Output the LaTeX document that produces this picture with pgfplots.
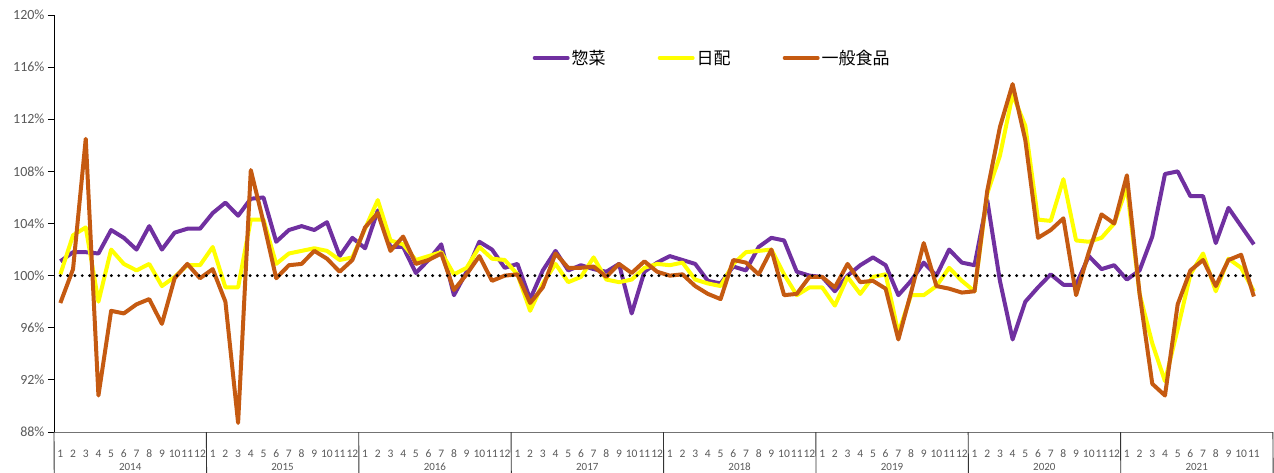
\documentclass[border=0pt]{standalone}
\usepackage{pgfplots}
\usepackage{pgfplotstable}
\usepackage{fontspec}
\pgfplotsset{compat=1.18}
\setmainfont{Carlito}
\newfontfamily\cjk{Noto Sans CJK JP}

\definecolor{sozai}{HTML}{7030A0}
\definecolor{nichi}{HTML}{FFFF00}
\definecolor{ippan}{HTML}{C55A11}
\definecolor{tickgray}{HTML}{595959}

% month index (0 = 2014/1), 惣菜, 日配, 一般食品
\pgfplotstableread{
i   s      n      g
0   101.1  100.1  97.9
1   101.8  103.1  100.5
2   101.8  103.7  110.5
3   101.7  98.0   90.8
4   103.5  102.0  97.3
5   102.9  100.9  97.1
6   102.0  100.4  97.8
7   103.8  100.9  98.2
8   102.0  99.2   96.3
9   103.3  99.9   99.8
10  103.6  100.8  100.9
11  103.6  100.8  99.8
12  104.8  102.2  100.5
13  105.6  99.1   98.0
14  104.6  99.1   88.7
15  105.9  104.3  108.1
16  106.0  104.3  104.1
17  102.6  100.9  99.8
18  103.5  101.7  100.8
19  103.8  101.9  100.9
20  103.5  102.1  101.9
21  104.1  101.9  101.3
22  101.5  101.2  100.3
23  102.9  101.4  101.2
24  102.1  103.6  103.7
25  105.0  105.8  104.8
26  102.2  102.7  101.9
27  102.2  102.4  103.0
28  100.2  101.2  100.9
29  101.2  101.5  101.2
30  102.4  101.8  101.7
31  98.5   100.1  98.9
32  100.3  100.6  100.1
33  102.6  102.2  101.5
34  102.0  101.3  99.6
35  100.6  101.2  100.0
36  100.9  100.1  100.1
37  98.2   97.3   97.9
38  100.4  99.4   99.1
39  101.9  100.9  101.7
40  100.4  99.5   100.6
41  100.8  99.9   100.6
42  100.5  101.4  100.7
43  100.3  99.7   99.9
44  100.9  99.5   100.9
45  97.1   99.7   100.2
46  100.3  100.6  101.1
47  101.0  100.9  100.3
48  101.5  100.8  100.0
49  101.2  101.0  100.1
50  100.9  99.7   99.2
51  99.6   99.4   98.6
52  99.4   99.2   98.2
53  100.7  100.9  101.2
54  100.4  101.8  101.0
55  102.2  101.9  100.1
56  102.9  102.0  102.0
57  102.7  100.1  98.5
58  100.3  98.5   98.6
59  100.0  99.1   99.9
60  99.9   99.1   99.9
61  98.8   97.7   99.1
62  100.0  99.9   100.9
63  100.8  98.6   99.5
64  101.4  99.9   99.6
65  100.8  100.1  99.0
66  98.5   95.6   95.1
67  99.6   98.5   98.7
68  101.0  98.5   102.5
69  100.0  99.2   99.2
70  102.0  100.6  99.0
71  101.0  99.6   98.7
72  100.8  98.8   98.8
73  105.8  106.3  106.5
74  99.6   109.2  111.4
75  95.1   113.9  114.7
76  98.0   111.5  110.4
77  99.1   104.3  102.9
78  100.1  104.2  103.5
79  99.3   107.4  104.4
80  99.3   102.7  98.5
81  101.5  102.6  101.8
82  100.5  102.9  104.7
83  100.8  104.0  104.0
84  99.7   106.8  107.7
85  100.4  98.6   98.6
86  103.0  94.8   91.7
87  107.8  91.9   90.8
88  108.0  95.9   97.8
89  106.1  100.1  100.4
90  106.1  101.7  101.2
91  102.5  98.8   99.2
92  105.2  101.3  101.2
93  103.8  100.6  101.6
94  102.4  98.8   98.4
}\datatable

\begin{document}
\begin{tikzpicture}
\useasboundingbox (0,0) rectangle (1274pt,472pt);
\begin{axis}[
    at={(54pt,40pt)}, anchor=south west,
    width=1219pt, height=417pt, scale only axis,
    xmin=-0.5, xmax=95.5, ymin=88, ymax=120,
    axis x line*=bottom, axis y line*=left,
    x axis line style={-, black!55, line width=0.9pt},
    y axis line style={-, black, line width=0.9pt},
    clip=false,
    ytick={88,92,...,120},
    yticklabel={\pgfmathprintnumber{\tick}\%},
    /pgf/number format/assume math mode=true,
    yticklabel style={font=\fontsize{14}{14}\selectfont, text=tickgray},
    tick align=outside,
    major tick length=6pt,
    ytick style={black, line width=0.8pt},
    xtick={0,...,94},
    xtick style={draw=none},
    xticklabels={1,2,3,4,5,6,7,8,9,10,11,12,1,2,3,4,5,6,7,8,9,10,11,12,
      1,2,3,4,5,6,7,8,9,10,11,12,1,2,3,4,5,6,7,8,9,10,11,12,
      1,2,3,4,5,6,7,8,9,10,11,12,1,2,3,4,5,6,7,8,9,10,11,12,
      1,2,3,4,5,6,7,8,9,10,11,12,1,2,3,4,5,6,7,8,9,10,11},
    xticklabel style={font=\fontsize{11.5}{11.5}\selectfont, text=tickgray,
      anchor=base, yshift=-19pt, inner xsep=0pt},
    legend columns=3,
    legend style={draw=none, fill=none, at={(0.54,0.897)}, anchor=center,
      font=\cjk\fontsize{17}{17}\selectfont,
      nodes={inner xsep=2pt},
      /tikz/every even column/.append style={column sep=50pt}},
    legend image code/.code={\draw[#1, line cap=round] (0pt,0pt) -- (33pt,0pt);},
  ]
  \addplot[sozai, line width=4pt, line join=round] table[x=i, y=s] {\datatable};
  \addlegendentry{惣菜}
  \addplot[nichi, line width=4pt, line join=round] table[x=i, y=n] {\datatable};
  \addlegendentry{日配}
  \addplot[ippan, line width=4pt, line join=round] table[x=i, y=g] {\datatable};
  \addlegendentry{一般食品}
  \addplot[forget plot, black, line width=3.2pt, line cap=round,
    dash pattern=on 0pt off 7.3pt] coordinates {(0,100) (94,100)};

  \pgfplotsinvokeforeach{-0.5,11.5,23.5,35.5,47.5,59.5,71.5,83.5,95.5}{
    \draw[black!80, line width=0.9pt] (axis cs:#1,88) -- ++(0,-42pt);
  }
  \begin{scope}[every node/.style={font=\fontsize{11}{11}\selectfont, text=tickgray, anchor=base}]
    \node at (axis cs:5.5,88)  [yshift=-38pt] {2014};
    \node at (axis cs:17.5,88) [yshift=-38pt] {2015};
    \node at (axis cs:29.5,88) [yshift=-38pt] {2016};
    \node at (axis cs:41.5,88) [yshift=-38pt] {2017};
    \node at (axis cs:53.5,88) [yshift=-38pt] {2018};
    \node at (axis cs:65.5,88) [yshift=-38pt] {2019};
    \node at (axis cs:77.5,88) [yshift=-38pt] {2020};
    \node at (axis cs:89.5,88) [yshift=-38pt] {2021};
  \end{scope}
\end{axis}
\end{tikzpicture}
\end{document}
